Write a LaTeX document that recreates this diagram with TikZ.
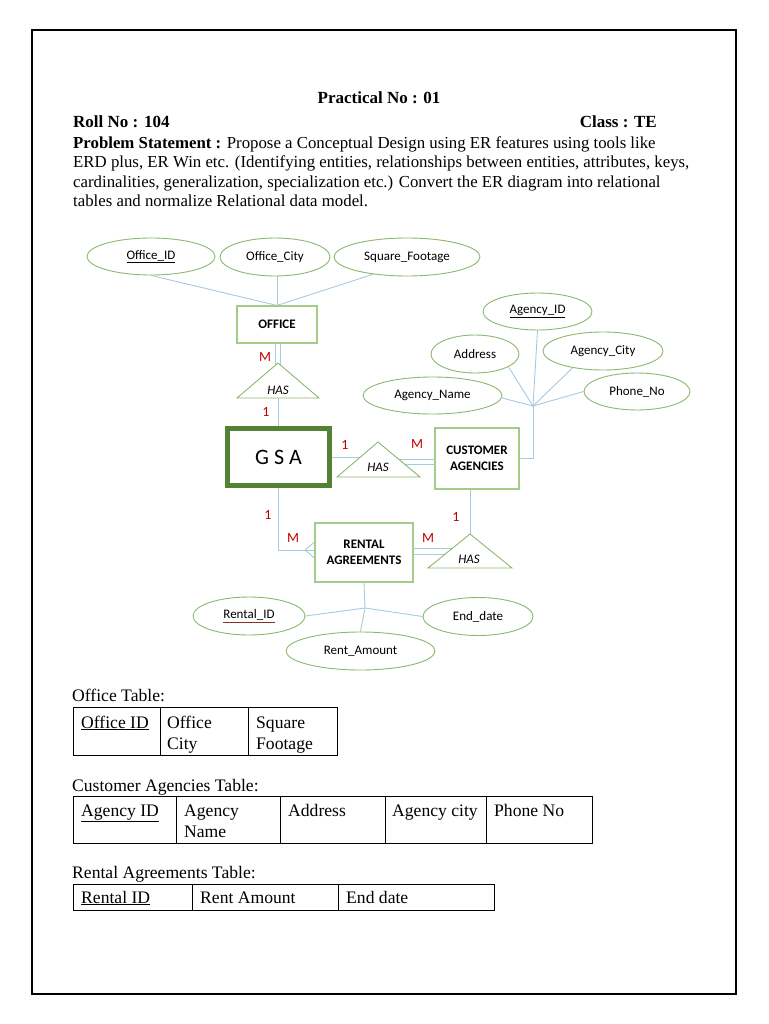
\documentclass[tikz,border=0pt]{standalone}
\usepackage{fontspec}
\setmainfont{Liberation Serif}
\newfontfamily\erfont{Carlito}
\usetikzlibrary{shapes.geometric,calc,backgrounds}
\definecolor{attrgreen}{HTML}{8CB86E}
\definecolor{entgreen}{HTML}{A3CC88}
\definecolor{gsagreen}{HTML}{548235}
\definecolor{linkblue}{HTML}{A8CADF}
\definecolor{cardred}{HTML}{C00000}
\definecolor{keyred}{HTML}{8B2E2E}
\begin{document}
\begin{tikzpicture}[x=1pt,y=-1pt,
  txt/.style={font=\fontsize{17}{20}\selectfont, inner sep=0pt},
  pstxt/.style={font=\fontsize{16.8}{20}\selectfont, inner sep=0pt},
  tbtxt/.style={font=\fontsize{17.6}{21}\selectfont, inner sep=0pt},
  attr/.style={ellipse, draw=attrgreen, line width=0.9pt, fill=white, inner sep=0pt, font=\erfont\fontsize{13}{15}\selectfont},
  ent/.style={rectangle, draw=entgreen, line width=1.1pt, fill=white, inner sep=0pt, align=center, font=\erfont\bfseries\fontsize{13}{16}\selectfont},
  rel/.style={draw=attrgreen, line width=0.9pt, fill=white},
  link/.style={draw=linkblue, line width=0.9pt},
  card/.style={text=cardred, font=\erfont\fontsize{14}{16}\selectfont, inner sep=0pt},
  reltxt/.style={font=\erfont\itshape\fontsize{13}{15}\selectfont, inner sep=0pt},
  tline/.style={draw=black, line width=1pt}]
\useasboundingbox (0,0) rectangle (768,1024);
\draw[line width=1.6pt] (32,30) rectangle (736,994);

% header text
\node[txt, anchor=base] (title) at (379,104) {\bfseries Practical No : 01};
\node[txt, anchor=base west] (roll) at (73,128) {\bfseries Roll No : 104};
\node[txt, anchor=base east] (class) at (657,128) {\bfseries Class : TE};
\node[pstxt, anchor=base west] (ps1) at (73,149) {\textbf{Problem Statement :} Propose a Conceptual Design using ER features using tools like};
\node[pstxt, anchor=base west] (ps2) at (73,168) {ERD plus, ER Win etc. (Identifying entities, relationships between entities, attributes, keys,};
\node[pstxt, anchor=base west] (ps3) at (73,188) {cardinalities, generalization, specialization etc.) Convert the ER diagram into relational};
\node[pstxt, anchor=base west] (ps4) at (73,207) {tables and normalize Relational data model.};

% entities
\node[ent, minimum width=80, minimum height=37] (office) at (277,324.5) {OFFICE};
\node[draw=gsagreen, line width=5pt, fill=white, minimum width=102, minimum height=57, inner sep=0pt, font=\erfont\fontsize{22}{24}\selectfont] (gsa) at (278.5,457) {G S A};
\node[ent, minimum width=84, minimum height=61] (ca) at (477,458.5) {CUSTOMER\\AGENCIES};
\node[ent, minimum width=98, minimum height=59] (ra) at (364,552.5) {RENTAL\\AGREEMENTS};

% attributes
\node[attr, minimum width=128, minimum height=37] (oid) at (151,256.5) {\underline{Office\_ID}};
\node[attr, minimum width=110, minimum height=38] (ocity) at (275,257) {Office\_City};
\node[attr, minimum width=146, minimum height=38] (sqft) at (407,257) {Square\_Footage};
\node[attr, minimum width=109, minimum height=37] (aid) at (537.5,311.5) {\underline{Agency\_ID}};
\node[attr, minimum width=88, minimum height=38] (addr) at (475,354) {Address};
\node[attr, minimum width=120, minimum height=38] (acity) at (603,351) {Agency\_City};
\node[attr, minimum width=139, minimum height=37] (aname) at (432.5,395.5) {Agency\_Name};
\node[attr, minimum width=106, minimum height=37] (phone) at (637,391.5) {Phone\_No};
\node[attr, minimum width=112, minimum height=38] (rid) at (249,616) {{\color{keyred}\underline{\color{black}Rental\_ID}}};
\node[attr, minimum width=110, minimum height=38] (edate) at (478,616.5) {End\_date};
\node[attr, minimum width=149, minimum height=38] (ramt) at (360.5,651) {Rent\_Amount};

% relationship triangles
\coordinate (h1a) at (278,363); \coordinate (h1l) at (237,398); \coordinate (h1r) at (319,398);
\coordinate (h2a) at (378,442); \coordinate (h2l) at (337,477); \coordinate (h2r) at (420,477);
\coordinate (h3a) at (470,534); \coordinate (h3l) at (428,568); \coordinate (h3r) at (512,568);
\draw[rel] (h1a) -- (h1l) -- (h1r) -- cycle;
\draw[rel] (h2a) -- (h2l) -- (h2r) -- cycle;
\draw[rel] (h3a) -- (h3l) -- (h3r) -- cycle;
\node[reltxt] (h1t) at (278,390) {HAS};
\node[reltxt] (h2t) at (378,467) {HAS};
\node[reltxt] (h3t) at (469,559) {HAS};

% helper points
\coordinate (h1ul) at ($(h1a)!0.07!(h1l)$);
\coordinate (h1ur) at ($(h1a)!0.05!(h1r)$);
\coordinate (h2gl) at ($(h2a)!0.4286!(h2l)$);
\coordinate (h2r1) at ($(h2a)!0.486!(h2r)$);
\coordinate (h2r2) at ($(h2a)!0.629!(h2r)$);
\coordinate (h3l1) at ($(h3a)!0.412!(h3l)$);
\coordinate (h3l2) at ($(h3a)!0.588!(h3l)$);
\coordinate (cfan) at (533,406);
\coordinate (rfan) at (365,608);
\coordinate (crow) at (305,550);

\begin{scope}[on background layer]
% office attributes
\draw[link] (oid.south) -- (office.north);
\draw[link] (office.north |- ocity.south) -- (office.north);
\draw[link] (sqft.207) -- (office.north);
% office - has - gsa
\draw[link] (h1ul |- office.south) -- (h1ul);
\draw[link] (h1ur |- office.south) -- (h1ur);
\draw[link] (gsa.north |- h1l) -- (gsa.north);
% gsa - has - customer agencies
\draw[link] (gsa.east) -- (gsa.east -| h2gl);
\draw[link] (h2r1) -- (h2r1 -| ca.west);
\draw[link] (h2r2) -- (h2r2 -| ca.west);
% customer agency attributes
\draw[link] (ca.east) -| (cfan);
\draw[link] (cfan) -- (aid.south);
\draw[link] (cfan) -- (addr.-21.5);
\draw[link] (cfan) -- (acity.-151);
\draw[link] (cfan) -- (aname.-2);
\draw[link] (cfan) -- (phone.west);
% customer agencies - has - rental
\draw[link] (ca.south -| h3a) -- (h3a);
\draw[link] (h3l1 -| ra.east) -- (h3l1);
\draw[link] (h3l2 -| ra.east) -- (h3l2);
% gsa - rental (crow's foot)
\draw[link] (gsa.south) |- (ra.west |- crow);
\draw[link] (crow) -- ($(ra.west |- crow)+(0,-8)$);
\draw[link] (crow) -- ($(ra.west |- crow)+(0,8)$);
% rental attributes
\draw[link] (ra.south) -- (rfan);
\draw[link] (rfan) -- (rid.east);
\draw[link] (rfan) -- (edate.west);
\draw[link] (rfan) -- (ramt.north);
\end{scope}

% cardinalities
\node[card] (m1) at (265,357) {M};
\node[card] (o1) at (266,412) {1};
\node[card] (o2) at (345,445) {1};
\node[card] (m2) at (417,444) {M};
\node[card] (o3) at (268,515) {1};
\node[card] (m3) at (293,538) {M};
\node[card] (o4) at (456,517) {1};
\node[card] (m4) at (428,538) {M};

% tables
\node[tbtxt, anchor=base west] (t1cap) at (72,701) {Office Table:};
\draw[tline] (73,707) rectangle (337,755);
\draw[tline] (160,707) -- (160,755);
\draw[tline] (248,707) -- (248,755);
\node[tbtxt, anchor=base west] (t1a) at (81,728) {\underline{Office ID}};
\node[tbtxt, anchor=base west] (t1b) at (167,728) {Office};
\node[tbtxt, anchor=base west] (t1b2) at (167,749) {City};
\node[tbtxt, anchor=base west] (t1c) at (256,728) {Square};
\node[tbtxt, anchor=base west] (t1c2) at (256,749) {Footage};

\node[tbtxt, anchor=base west] (t2cap) at (72,791) {Customer Agencies Table:};
\draw[tline] (73,796) rectangle (592,843);
\foreach \xx in {176,280,385,486} \draw[tline] (\xx,796) -- (\xx,843);
\node[tbtxt, anchor=base west] (t2a) at (81,816) {\underline{Agency ID}};
\node[tbtxt, anchor=base west] (t2b) at (184,816) {Agency};
\node[tbtxt, anchor=base west] (t2b2) at (184,837) {Name};
\node[tbtxt, anchor=base west] (t2c) at (288,816) {Address};
\node[tbtxt, anchor=base west] (t2d) at (392,816) {Agency city};
\node[tbtxt, anchor=base west] (t2e) at (494,816) {Phone No};

\node[tbtxt, anchor=base west] (t3cap) at (72,878) {Rental Agreements Table:};
\draw[tline] (73,884) rectangle (494,910);
\draw[tline] (192,884) -- (192,910);
\draw[tline] (338,884) -- (338,910);
\node[tbtxt, anchor=base west] (t3a) at (81,903) {\underline{Rental ID}};
\node[tbtxt, anchor=base west] (t3b) at (200,903) {Rent Amount};
\node[tbtxt, anchor=base west] (t3c) at (346,903) {End date};
\end{tikzpicture}
\end{document}
